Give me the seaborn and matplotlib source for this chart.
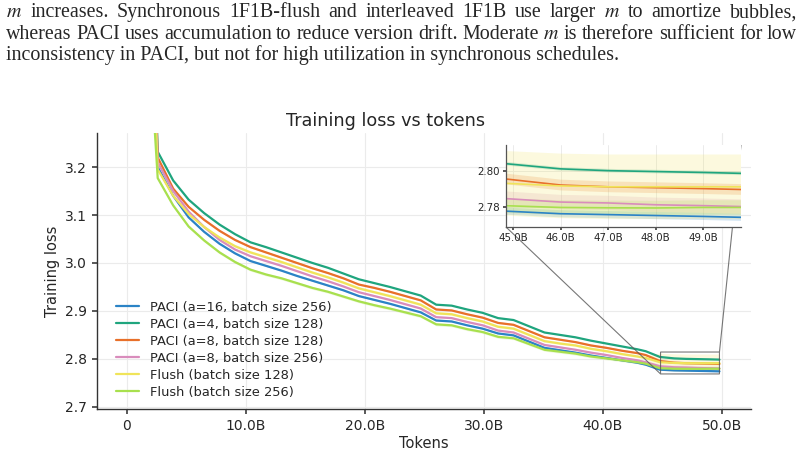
import numpy as np
import pandas as pd
import matplotlib
matplotlib.use("Agg")
import matplotlib.pyplot as plt
import seaborn as sns
from matplotlib.ticker import FuncFormatter

# ---------------- data ----------------
tokens_b = [1.3, 2.6, 3.9, 5.2, 6.5, 7.8, 9.1, 10.4, 11.7, 13.0, 14.3, 15.6, 16.9, 18.2,
            19.5, 20.8, 22.1, 23.4, 24.7, 26.0, 27.3, 28.6, 29.9, 31.2, 32.5, 33.8, 35.1,
            36.4, 37.7, 39.0, 40.3, 41.6, 42.9, 43.6, 44.8, 46.0, 47.0, 48.0, 49.0, 49.8]

run_names = ["PACI (a=16, batch size 256)", "PACI (a=4, batch size 128)",
             "PACI (a=8, batch size 128)", "PACI (a=8, batch size 256)",
             "Flush (batch size 128)", "Flush (batch size 256)"]

loss_paci16_256 = [4.05, 3.200, 3.140, 3.095, 3.065, 3.040, 3.020, 3.004, 2.994, 2.984,
                   2.973, 2.963, 2.953, 2.943, 2.931, 2.923, 2.915, 2.906, 2.897, 2.880,
                   2.878, 2.870, 2.863, 2.853, 2.849, 2.836, 2.823, 2.818, 2.813, 2.807,
                   2.802, 2.797, 2.792, 2.788, 2.7775, 2.776, 2.7755, 2.775, 2.7745, 2.774]
loss_paci4_128 = [4.30, 3.232, 3.172, 3.132, 3.104, 3.080, 3.060, 3.043, 3.033, 3.022,
                  3.011, 3.000, 2.990, 2.978, 2.966, 2.958, 2.950, 2.941, 2.932, 2.913,
                  2.911, 2.903, 2.896, 2.885, 2.881, 2.868, 2.855, 2.850, 2.845, 2.838,
                  2.832, 2.826, 2.820, 2.816, 2.804, 2.801, 2.800, 2.7995, 2.799, 2.7985]
loss_paci8_128 = [4.20, 3.220, 3.155, 3.117, 3.090, 3.067, 3.048, 3.033, 3.022, 3.011,
                  3.000, 2.989, 2.979, 2.968, 2.955, 2.948, 2.940, 2.931, 2.922, 2.903,
                  2.901, 2.893, 2.886, 2.875, 2.871, 2.858, 2.845, 2.840, 2.835, 2.828,
                  2.823, 2.817, 2.812, 2.808, 2.7955, 2.792, 2.791, 2.7905, 2.790, 2.7895]
loss_paci8_256 = [4.10, 3.210, 3.150, 3.107, 3.075, 3.048, 3.028, 3.014, 3.004, 2.994,
                  2.983, 2.972, 2.962, 2.951, 2.939, 2.931, 2.923, 2.914, 2.905, 2.887,
                  2.885, 2.877, 2.870, 2.859, 2.855, 2.842, 2.829, 2.824, 2.819, 2.813,
                  2.808, 2.802, 2.797, 2.793, 2.7845, 2.7825, 2.782, 2.781, 2.7805, 2.780]
loss_flush_128 = [4.00, 3.195, 3.140, 3.102, 3.075, 3.053, 3.035, 3.022, 3.012, 3.002,
                  2.991, 2.980, 2.970, 2.959, 2.947, 2.939, 2.931, 2.922, 2.913, 2.895,
                  2.893, 2.885, 2.878, 2.867, 2.863, 2.850, 2.837, 2.832, 2.828, 2.821,
                  2.816, 2.810, 2.805, 2.802, 2.793, 2.7915, 2.791, 2.791, 2.791, 2.791]
loss_flush_256 = [3.70, 3.177, 3.120, 3.076, 3.047, 3.022, 3.002, 2.986, 2.976, 2.968,
                  2.958, 2.948, 2.940, 2.930, 2.920, 2.912, 2.905, 2.897, 2.889, 2.872,
                  2.870, 2.862, 2.856, 2.846, 2.843, 2.831, 2.819, 2.815, 2.811, 2.805,
                  2.801, 2.797, 2.793, 2.790, 2.7805, 2.7795, 2.7793, 2.7792, 2.7795, 2.7795]

# half-widths of the shaded spread bands
hw_paci16_256 = [0.002] * 34 + [0.002] * 6
hw_paci4_128 = [0.001] * 34 + [0.001] * 6
hw_paci8_128 = [0.002] * 34 + [0.003] * 6
hw_paci8_256 = [0.002] * 34 + [0.004] * 6
hw_flush_128 = [0.003] * 34 + [0.018] * 6
hw_flush_256 = [0.003] * 34 + [0.004] * 6

colors = ["#2b83c6", "#1fa57e", "#e8702a", "#d98cbc", "#f0e45a", "#a8e04e"]

x_ticks = [0, 10, 20, 30, 40, 50]
y_ticks = [2.7, 2.8, 2.9, 3.0, 3.1, 3.2]
inset_x_ticks = [45, 46, 47, 48, 49]
inset_y_ticks = [2.78, 2.80]

para_lines = [
    "$m$ increases.  Synchronous 1F1B-flush and interleaved 1F1B use larger $m$ to amortize bubbles,",
    "whereas PACI uses accumulation to reduce version drift. Moderate $m$ is therefore sufficient for low",
    "inconsistency in PACI, but not for high utilization in synchronous schedules.",
]

# ---------------- build frame ----------------
all_loss = [loss_paci16_256, loss_paci4_128, loss_paci8_128, loss_paci8_256,
            loss_flush_128, loss_flush_256]
all_hw = [hw_paci16_256, hw_paci4_128, hw_paci8_128, hw_paci8_256,
          hw_flush_128, hw_flush_256]
rows = []
for name, ys in zip(run_names, all_loss):
    for xv, yv in zip(tokens_b, ys):
        rows.append({"Tokens": xv, "Training loss": yv, "run": name})
df = pd.DataFrame(rows)

sns.set_theme(style="ticks")
plt.rcParams["font.family"] = ["DejaVu Sans"]
plt.rcParams["mathtext.fontset"] = "stix"

W, H = 807, 453
fig = plt.figure(figsize=(W / 100, H / 100), dpi=100)

# ---------------- main axes ----------------
ax = fig.add_axes([97 / W, 1 - 409 / H, (751 - 97) / W, (409 - 133) / H])
sns.lineplot(data=df, x="Tokens", y="Training loss", hue="run", hue_order=run_names,
             palette=colors, linewidth=1.6, ax=ax, errorbar=None)
for ys, hw, c in zip(all_loss, all_hw, colors):
    y = np.array(ys); h = np.array(hw)
    ax.fill_between(tokens_b, y - h, y + h, color=c, alpha=0.2, lw=0)

ax.set_xlim(-2.5, 52.45)
ax.set_ylim(2.6955, 3.271)
ax.set_xticks(x_ticks)
ax.set_yticks(y_ticks)
ax.xaxis.set_major_formatter(FuncFormatter(lambda v, _: "0" if v == 0 else f"{v:.1f}B"))
ax.yaxis.set_major_formatter(FuncFormatter(lambda v, _: f"{v:.1f}"))
ax.tick_params(labelsize=10, length=3.5, color="#444444")
ax.grid(True, color="#ebebeb", lw=0.8)
ax.set_xlabel("Tokens", fontsize=10.5, labelpad=2)
ax.set_ylabel("Training loss", fontsize=10.5)
sns.despine(ax=ax)
for s in ["left", "bottom"]:
    ax.spines[s].set_color("#333333")
    ax.spines[s].set_linewidth(1.0)

handles, labels = ax.get_legend_handles_labels()
ax.legend(handles, labels, loc="lower left", bbox_to_anchor=(0.013, 0.0), frameon=False,
          fontsize=9.4, handlelength=1.8, labelspacing=0.3, borderaxespad=0.4)

fig.text(385.5 / W, 1 - 126 / H, "Training loss vs tokens", ha="center", va="baseline",
         fontsize=12.7)

# ---------------- inset ----------------
axins = fig.add_axes([506 / W, 1 - 227 / H, (741 - 506) / W, (227 - 145) / H])
sns.lineplot(data=df, x="Tokens", y="Training loss", hue="run", hue_order=run_names,
             palette=colors, linewidth=1.2, ax=axins, errorbar=None, legend=False)
for ys, hw, c in zip(all_loss, all_hw, colors):
    y = np.array(ys); h = np.array(hw)
    axins.fill_between(tokens_b, y - h, y + h, color=c, alpha=0.2, lw=0)
axins.set_xlim(44.85, 49.8)
axins.set_ylim(2.7686, 2.8143)
axins.set_xticks(inset_x_ticks)
axins.set_yticks(inset_y_ticks)
axins.xaxis.set_major_formatter(FuncFormatter(lambda v, _: f"{v:.1f}B"))
axins.yaxis.set_major_formatter(FuncFormatter(lambda v, _: f"{v:.2f}"))
axins.tick_params(labelsize=7.4, length=2.5, pad=2, color="#444444")
axins.grid(True, color="#ebebeb", lw=0.7)
axins.set_xlabel("")
axins.set_ylabel("")
sns.despine(ax=axins)
for s in ["left", "bottom"]:
    axins.spines[s].set_color("#555555")
    axins.spines[s].set_linewidth(0.9)
ax.indicate_inset_zoom(axins, edgecolor="#555555", alpha=0.8, linewidth=0.8)

# ---------------- paragraph text ----------------
renderer = fig.canvas.get_renderer()
serif = "Liberation Serif"


def width_of(s, fs):
    t = fig.text(0, 0, s, fontsize=fs, family=serif)
    w = t.get_window_extent(renderer).width
    t.remove()
    return w


fs = 11.0 * 613.0 / width_of(para_lines[2], 11.0)
left_px, right_px = 6.0, 797.0
baselines = [17.3, 39.3, 60.0]
for i, line in enumerate(para_lines):
    yb = 1 - baselines[i] / H
    if i < 2:
        words = line.split()
        ws = [width_of(w, fs) for w in words]
        gap = (right_px - left_px - sum(ws)) / (len(words) - 1)
        xp = left_px
        for w, wd in zip(words, ws):
            fig.text(xp / W, yb, w, fontsize=fs, family=serif, va="baseline", ha="left")
            xp += wd + gap
    else:
        fig.text(left_px / W, yb, line, fontsize=fs, family=serif, va="baseline", ha="left")

fig.savefig("out.png", dpi=100)
